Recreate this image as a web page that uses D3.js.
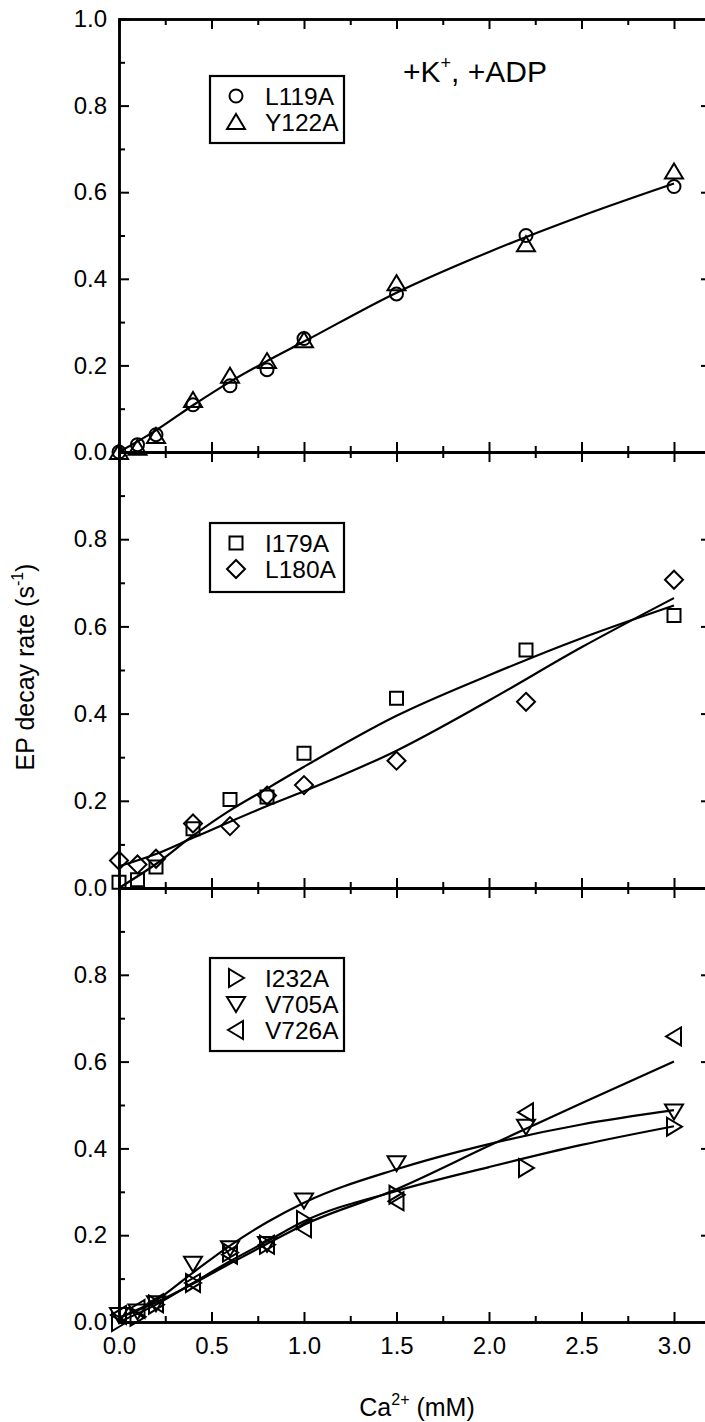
<!DOCTYPE html>
<html>
<head>
<meta charset="utf-8">
<script src="https://cdn.jsdelivr.net/npm/d3@7"></script>
<style>
  body { margin: 0; background: #fff; }
  svg { display: block; font-family: "Liberation Sans", Arial, sans-serif; }
</style>
</head>
<body>
<svg id="chart" width="705" height="1422"></svg>
<script>
// Ca2+ concentrations (mM)
var caX = [0, 0.1, 0.2, 0.4, 0.6, 0.8, 1.0, 1.5, 2.2, 3.0];
var fitX = [0, 0.2, 0.4, 0.6, 0.8, 1.0, 1.5, 2.0, 2.5, 3.0];

// Top panel
var l119a = [0.0, 0.017, 0.04, 0.109, 0.153, 0.19, 0.262, 0.365, 0.50, 0.613];
var y122a = [0.0, 0.01, 0.037, 0.12, 0.176, 0.21, 0.258, 0.39, 0.48, 0.648];
var fitTop = [0.0, 0.05, 0.108, 0.162, 0.21, 0.255, 0.368, 0.462, 0.545, 0.62];

// Middle panel
var i179a = [0.013, 0.019, 0.048, 0.136, 0.203, 0.209, 0.309, 0.435, 0.546, 0.625];
var l180a = [0.063, 0.054, 0.067, 0.148, 0.142, 0.212, 0.236, 0.292, 0.427, 0.707];
var fitI179a = [0.0, 0.055, 0.12, 0.178, 0.228, 0.278, 0.395, 0.488, 0.573, 0.648];
var fitL180a = [0.05, 0.078, 0.115, 0.152, 0.188, 0.222, 0.315, 0.43, 0.552, 0.665];

// Bottom panel
var i232a = [0.0, 0.012, 0.04, 0.09, 0.16, 0.178, 0.235, 0.293, 0.355, 0.45];
var v705a = [0.016, 0.024, 0.043, 0.134, 0.17, 0.18, 0.28, 0.366, 0.45, 0.485];
var v726a = [0.016, 0.03, 0.043, 0.09, 0.155, 0.178, 0.216, 0.278, 0.483, 0.658];
var fitI232a = [0.0, 0.04, 0.09, 0.14, 0.186, 0.232, 0.302, 0.357, 0.408, 0.451];
var fitV705a = [0.01, 0.05, 0.114, 0.176, 0.23, 0.275, 0.352, 0.41, 0.455, 0.488];
var fitV726a = [0.01, 0.045, 0.088, 0.135, 0.18, 0.224, 0.306, 0.406, 0.504, 0.60];

var yMajor = [0, 0.2, 0.4, 0.6, 0.8, 1.0];
var yMinor = [0.1, 0.3, 0.5, 0.7, 0.9];
var xMajor = [0, 0.5, 1.0, 1.5, 2.0, 2.5, 3.0];
var xMinor = [0.25, 0.75, 1.25, 1.75, 2.25, 2.75];

var svg = d3.select('#chart');
var x = d3.scaleLinear().domain([0, 3.2]).range([119, 711]);

// marker shapes
var shapes = {
  circle: 'M6.5,0A6.5,6.5 0 1,1 -6.5,0A6.5,6.5 0 1,1 6.5,0Z',
  up: 'M0,-8L9,7L-9,7Z',
  down: 'M0,8L9,-7L-9,-7Z',
  right: 'M8,0L-7,9L-7,-9Z',
  left: 'M-8,0L7,9L7,-9Z',
  square: 'M-6.5,-6.5H6.5V6.5H-6.5Z',
  diamond: 'M0,-9L9,0L0,9L-9,0Z'
};

var panels = [
  {top: 19, bottom: 452, labelTop: true,
    series: [{name: 'L119A', vals: l119a, shape: 'circle'}, {name: 'Y122A', vals: y122a, shape: 'up'}],
    fits: [fitTop],
    legend: {y: 76, h: 67}},
  {top: 452, bottom: 888, labelTop: false,
    series: [{name: 'I179A', vals: i179a, shape: 'square'}, {name: 'L180A', vals: l180a, shape: 'diamond'}],
    fits: [fitI179a, fitL180a],
    legend: {y: 523, h: 69}},
  {top: 888, bottom: 1322, labelTop: false,
    series: [{name: 'I232A', vals: i232a, shape: 'right'}, {name: 'V705A', vals: v705a, shape: 'down'}, {name: 'V726A', vals: v726a, shape: 'left'}],
    fits: [fitI232a, fitV705a, fitV726a],
    legend: {y: 958, h: 93}}
];

function styleAxis(g, w) {
  g.select('.domain').attr('stroke-width', w);
  g.selectAll('.tick line').attr('stroke-width', 2);
  g.selectAll('.tick text').attr('font-size', 24).attr('fill', '#000');
}

panels.forEach(function(p, i) {
  var y = d3.scaleLinear().domain([0, 1]).range([p.bottom, p.top]);
  var g = svg.append('g');
  var labels = p.labelTop ? yMajor : yMajor.slice(0, 5);

  // left axis with labels, ticks pointing inward
  g.append('g').attr('transform', 'translate(119,0)')
    .call(d3.axisLeft(y).tickValues(yMajor).tickSizeInner(-10).tickSizeOuter(0).tickPadding(12)
      .tickFormat(function(d) { return labels.indexOf(d) >= 0 ? d3.format('.1f')(d) : ''; }))
    .call(styleAxis, 2.5);
  g.append('g').attr('transform', 'translate(119,0)')
    .call(d3.axisLeft(y).tickValues(yMinor).tickSize(-6).tickFormat(''))
    .call(styleAxis, 2.5);

  // right axis
  g.append('g').attr('transform', 'translate(711,0)')
    .call(d3.axisRight(y).tickValues(yMajor).tickSizeInner(-10).tickSizeOuter(0).tickFormat(''))
    .call(styleAxis, 2.5);
  g.append('g').attr('transform', 'translate(711,0)')
    .call(d3.axisRight(y).tickValues(yMinor).tickSize(-6).tickFormat(''))
    .call(styleAxis, 2.5);

  // top axis, ticks down
  g.append('g').attr('transform', 'translate(0,' + p.top + ')')
    .call(d3.axisTop(x).tickValues(xMajor).tickSizeInner(-10).tickSizeOuter(0).tickFormat(''))
    .call(styleAxis, 2.5);
  g.append('g').attr('transform', 'translate(0,' + p.top + ')')
    .call(d3.axisTop(x).tickValues(xMinor).tickSize(-6).tickFormat(''))
    .call(styleAxis, 2.5);

  // bottom axis, ticks up
  var last = i === panels.length - 1;
  g.append('g').attr('transform', 'translate(0,' + p.bottom + ')')
    .call(d3.axisBottom(x).tickValues(xMajor).tickSizeInner(-10).tickSizeOuter(0).tickPadding(15)
      .tickFormat(last ? d3.format('.1f') : ''))
    .call(styleAxis, 2.5);
  g.append('g').attr('transform', 'translate(0,' + p.bottom + ')')
    .call(d3.axisBottom(x).tickValues(xMinor).tickSize(-6).tickFormat(''))
    .call(styleAxis, 2.5);

  // fit curves
  var line = d3.line().x(function(d, j) { return x(fitX[j]); }).y(function(d) { return y(d); })
    .curve(d3.curveMonotoneX);
  g.selectAll('path.fit').data(p.fits).enter().append('path')
    .attr('class', 'fit')
    .attr('d', line)
    .attr('fill', 'none').attr('stroke', '#000').attr('stroke-width', 2.2);

  // markers
  p.series.forEach(function(s) {
    g.selectAll(null).data(s.vals).enter().append('path')
      .attr('transform', function(d, j) { return 'translate(' + x(caX[j]) + ',' + y(d) + ')'; })
      .attr('d', shapes[s.shape])
      .attr('fill', 'none').attr('stroke', '#000').attr('stroke-width', 2);
  });

  // legend
  var lg = g.append('g');
  lg.append('rect').attr('x', 210).attr('y', p.legend.y).attr('width', 134).attr('height', p.legend.h)
    .attr('fill', '#fff').attr('stroke', '#000').attr('stroke-width', 2.2);
  p.series.forEach(function(s, j) {
    var cy = p.legend.y + 20 + j * 26;
    lg.append('path').attr('transform', 'translate(236,' + cy + ')')
      .attr('d', shapes[s.shape]).attr('fill', 'none').attr('stroke', '#000').attr('stroke-width', 2);
    lg.append('text').attr('x', 265).attr('y', cy + 9).attr('font-size', 24.5).text(s.name);
  });
});

// condition label
var cond = svg.append('text').attr('x', 403).attr('y', 82).attr('font-size', 30);
cond.append('tspan').text('+K');
cond.append('tspan').attr('font-size', 18).attr('dy', -13).text('+');
cond.append('tspan').attr('dy', 13).text(', +ADP');

// axis titles
var xt = svg.append('text').attr('x', 417).attr('y', 1416).attr('font-size', 25).attr('text-anchor', 'middle');
xt.append('tspan').text('Ca');
xt.append('tspan').attr('font-size', 16).attr('dy', -11).text('2+');
xt.append('tspan').attr('dy', 11).text(' (mM)');

var yt = svg.append('text').attr('transform', 'translate(34,667) rotate(-90)')
  .attr('font-size', 25).attr('text-anchor', 'middle');
yt.append('tspan').text('EP decay rate (s');
yt.append('tspan').attr('font-size', 16).attr('dy', -11).text('-1');
yt.append('tspan').attr('dy', 11).text(')');
</script>
</body>
</html>
